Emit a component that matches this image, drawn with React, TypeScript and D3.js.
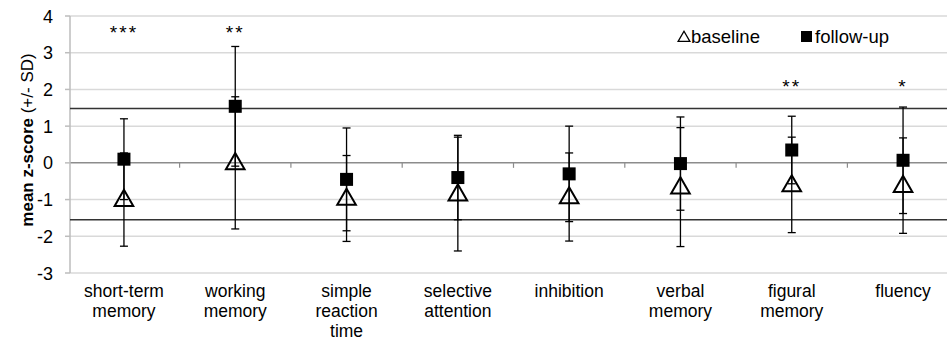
import React, { useEffect } from 'react'
import * as d3 from 'd3'

const categories = [
  ['short-term', 'memory'],
  ['working', 'memory'],
  ['simple', 'reaction', 'time'],
  ['selective', 'attention'],
  ['inhibition'],
  ['verbal', 'memory'],
  ['figural', 'memory'],
  ['fluency'],
]
const baselineMean = [-1.0, 0.0, -0.97, -0.85, -0.93, -0.66, -0.6, -0.62]
const baselineSD = [1.27, 1.8, 1.17, 1.55, 1.2, 1.62, 1.3, 1.3]
const followMean = [0.1, 1.54, -0.45, -0.4, -0.3, -0.02, 0.35, 0.07]
const followSD = [1.1, 1.63, 1.4, 1.15, 1.3, 1.27, 0.92, 1.45]
const stars = ['***', '**', '', '', '', '', '**', '*']
const starLevel = [3.66, 3.66, 0, 0, 0, 0, 2.19, 2.19]
const refLines = [1.48, -1.55]
const yTicks = [-3, -2, -1, 0, 1, 2, 3, 4]

const W = 947
const H = 345
const font = 'Liberation Sans, Arial, sans-serif'

export default function App() {
  useEffect(() => {
    document.body.style.margin = '0'
  }, [])

  const keys = categories.map((c, i) => String(i))
  const x = d3.scaleBand().domain(keys).range([68.3, 958.7]).padding(0)
  const y = d3.scaleLinear().domain([-3, 4]).range([273, 16])
  const cx = (i: number) => (x(String(i)) as number) + x.bandwidth() / 2
  const tri = d3.symbol().type(d3.symbolTriangle).size(150)
  const legendTri = d3.symbol().type(d3.symbolTriangle).size(60)
  const cap = 4

  const errBar = (key: string, i: number, m: number, s: number) => (
    <g key={key} stroke="#000" strokeWidth={1.3}>
      <line x1={cx(i)} x2={cx(i)} y1={y(m + s)} y2={y(m - s)} />
      <line x1={cx(i) - cap} x2={cx(i) + cap} y1={y(m + s)} y2={y(m + s)} />
      <line x1={cx(i) - cap} x2={cx(i) + cap} y1={y(m - s)} y2={y(m - s)} />
    </g>
  )

  return (
    <svg width={W} height={H} style={{ display: 'block', background: '#fff' }} fontFamily={font}>
      {/* grid */}
      {yTicks.map(t => (
        <line key={'g' + t} x1={70} x2={W} y1={y(t)} y2={y(t)}
          stroke={t === 0 ? '#8c8c8c' : '#d9d9d9'} strokeWidth={1.5} />
      ))}
      <line x1={70} x2={70} y1={y(4)} y2={y(-3)} stroke="#bdbdbd" strokeWidth={1.5} />
      {yTicks.map(t => (
        <g key={'t' + t}>
          <line x1={65} x2={70} y1={y(t)} y2={y(t)} stroke="#bdbdbd" strokeWidth={1.5} />
          <text x={53} y={y(t) + 6.5} textAnchor="end" fontSize={18}>{t}</text>
        </g>
      ))}
      {keys.slice(1).map(k => (
        <line key={'ct' + k} x1={x(k)} x2={x(k)} y1={y(0)} y2={y(0) + 5} stroke="#8c8c8c" strokeWidth={1.2} />
      ))}
      {refLines.map(v => (
        <line key={'r' + v} x1={70} x2={W} y1={y(v)} y2={y(v)} stroke="#333" strokeWidth={1.3} />
      ))}
      <text transform={`translate(33,140) rotate(-90)`} textAnchor="middle" fontSize={17}>
        <tspan fontWeight="bold">mean z-score </tspan>
        <tspan>(+/- SD)</tspan>
      </text>
      {/* baseline */}
      {baselineMean.map((m, i) => (
        <path key={'b' + i} d={tri() as string} transform={`translate(${cx(i)},${y(m) + 1})`}
          fill="none" stroke="#000" strokeWidth={2} />
      ))}
      {baselineMean.map((m, i) => errBar('eb' + i, i, m, baselineSD[i]))}
      {followMean.map((m, i) => errBar('ef' + i, i, m, followSD[i]))}
      {followMean.map((m, i) => (
        <rect key={'f' + i} x={cx(i) - 6.5} y={y(m) - 6.5} width={13} height={13} fill="#000" />
      ))}
      {stars.map((s, i) => s && (
        <text key={'s' + i} x={cx(i)} y={y(starLevel[i]) + 11} textAnchor="middle" fontSize={19} letterSpacing={2}>{s}</text>
      ))}
      {categories.map((lines, i) => (
        <text key={'c' + i} textAnchor="middle" fontSize={17.5}>
          {lines.map((l, j) => (
            <tspan key={j} x={cx(i)} y={297 + j * 20}>{l}</tspan>
          ))}
        </text>
      ))}
      {/* legend */}
      <path d={legendTri() as string} transform="translate(684,38)" fill="none" stroke="#000" strokeWidth={1.3} />
      <text x={691} y={43} fontSize={18.5}>baseline</text>
      <rect x={801} y={31} width={11} height={11} fill="#000" />
      <text x={815} y={43} fontSize={18.5}>follow-up</text>
    </svg>
  )
}
